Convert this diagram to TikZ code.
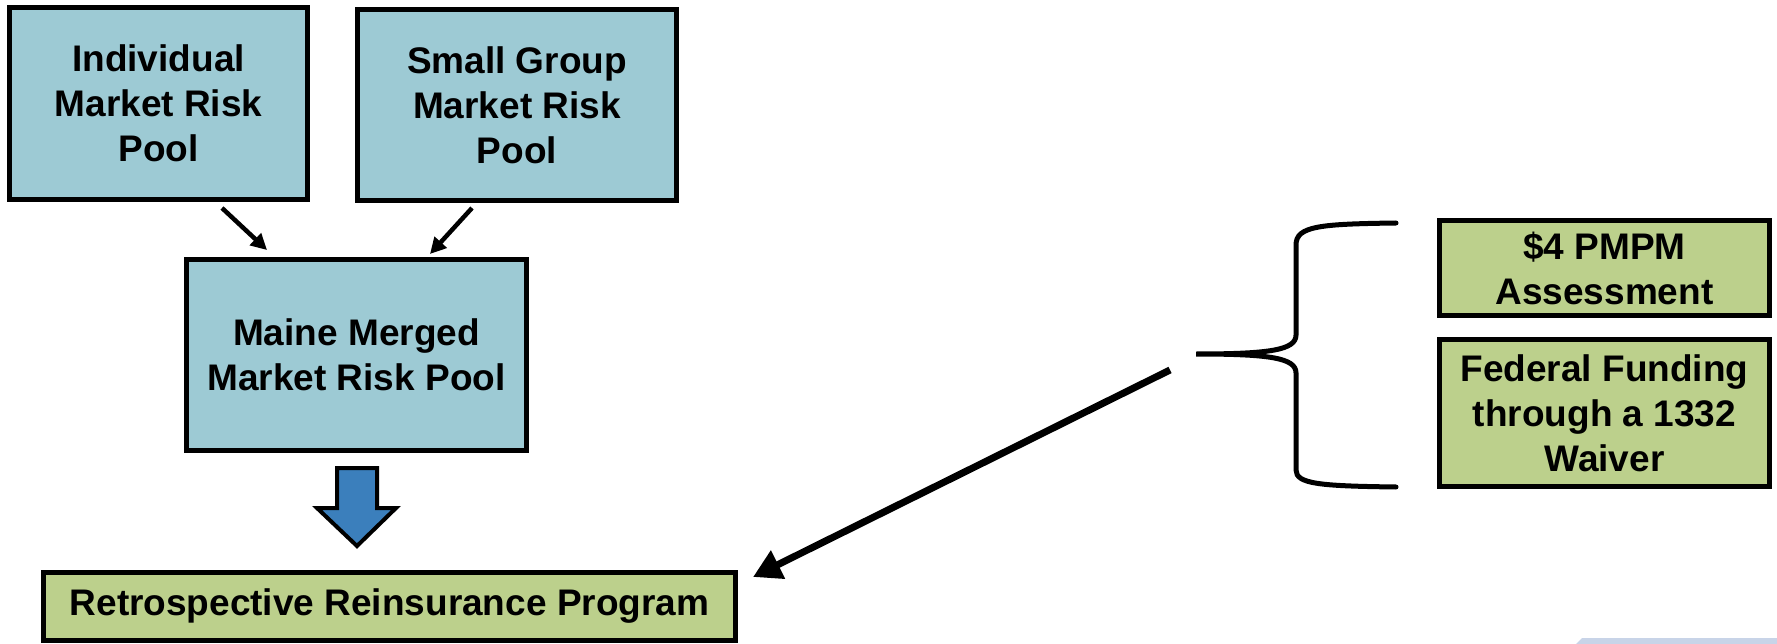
\documentclass[tikz,border=0pt]{standalone}
\usepackage{fontspec}
\setmainfont{Liberation Sans}
\usetikzlibrary{arrows.meta}
\definecolor{poolblue}{HTML}{9DCAD4}
\definecolor{fundgreen}{HTML}{BCD08C}
\definecolor{arrowblue}{HTML}{3B7FBC}
\definecolor{cornerblue}{HTML}{C8D4E8}
\tikzset{
  box/.style={draw=black, line width=5pt, rectangle, inner sep=0pt, align=center,
    font=\fontsize{37}{45}\selectfont\bfseries},
  bluebox/.style={box, fill=poolblue},
  greenbox/.style={box, fill=fundgreen},
  smallarrow/.style={line width=4.5pt, -{Triangle[length=16pt,width=16pt]}},
  bigarrow/.style={line width=7pt, -{Triangle[length=28pt,width=30pt]}},
  bracketline/.style={line width=5pt, line cap=round}
}
\begin{document}
\begin{tikzpicture}[x=1pt,y=-1pt]
\useasboundingbox (0,0) rectangle (1777,644);
% corner decoration
\fill[cornerblue] (1582,638) -- (1777,638) -- (1777,644) -- (1576,644) -- cycle;
% boxes
\node[bluebox, minimum width=298pt, minimum height=192pt] (ind) at (158.5,103.5) {Individual\\Market Risk\\Pool};
\node[bluebox, minimum width=319pt, minimum height=191pt] (sg) at (517,105) {Small Group\\Market Risk\\Pool};
\node[bluebox, minimum width=340pt, minimum height=191pt] (mm) at (356.5,355) {Maine Merged\\Market Risk Pool};
\node[greenbox, minimum width=692pt, minimum height=68pt] (rrp) at (389.5,606.5) {Retrospective Reinsurance Program};
\node[greenbox, minimum width=330pt, minimum height=95pt] (pmpm) at (1604.5,268) {\$4 PMPM\\Assessment};
\node[greenbox, minimum width=330pt, minimum height=147pt] (fed) at (1604.5,413) {Federal Funding\\through a 1332\\Waiver};
% small arrows
\coordinate (a1s) at (222,208);
\coordinate (a1e) at (267,250);
\coordinate (a2s) at (472,208);
\coordinate (a2e) at (430,254);
\draw[smallarrow] (a1s) -- (a1e);
\draw[smallarrow] (a2s) -- (a2e);
% block arrow
\filldraw[fill=arrowblue, draw=black, line width=4pt, line join=miter]
  (337,468) -- (377,468) -- (377,508) -- (396,508) -- (357,546) -- (317,508) -- (337,508) -- cycle;
% bracket
\coordinate (btop) at (1396,223);
\coordinate (btip) at (1196,354);
\coordinate (bbot) at (1396,487);
\draw[bracketline] (btop) .. controls (1320,224) and (1296,226) .. (1296,245)
  -- (1296,335) .. controls (1296,350) and (1270,354) .. (btip)
  .. controls (1270,354) and (1296,358) .. (1296,373)
  -- (1296,470) .. controls (1296,484) and (1320,486) .. (bbot);
% long arrow
\coordinate (ls) at (1170,370);
\coordinate (le) at (753,577);
\draw[bigarrow] (ls) -- (le);
\end{tikzpicture}
\end{document}
